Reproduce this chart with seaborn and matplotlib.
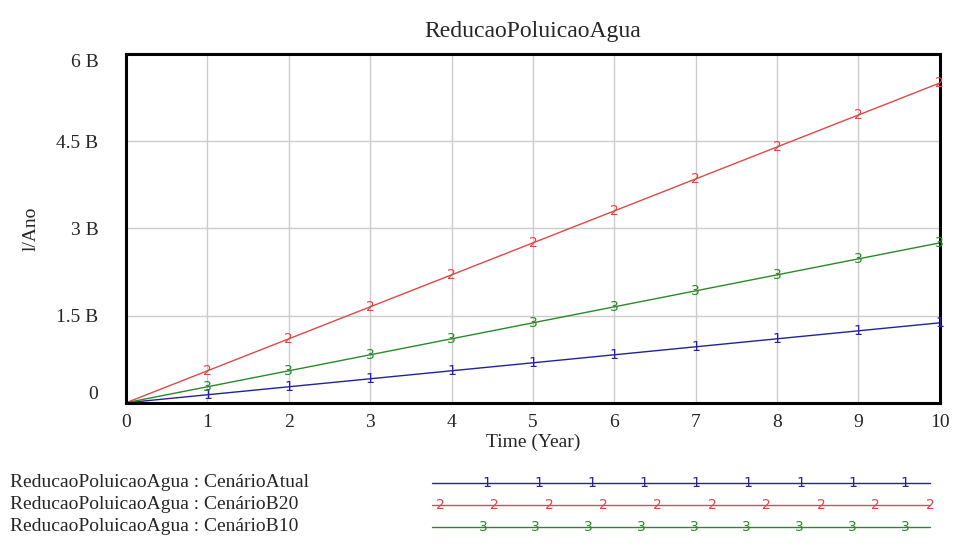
import numpy as np
import pandas as pd
import matplotlib
matplotlib.use("Agg")
import matplotlib.pyplot as plt
import seaborn as sns

time = [0, 1, 2, 3, 4, 5, 6, 7, 8, 9, 10]
atual = [0, 0.1375, 0.275, 0.4125, 0.55, 0.6875, 0.825, 0.9625, 1.1, 1.2375, 1.375]
b20 = [0, 0.55, 1.1, 1.65, 2.2, 2.75, 3.3, 3.85, 4.4, 4.95, 5.5]
b10 = [0, 0.275, 0.55, 0.825, 1.1, 1.375, 1.65, 1.925, 2.2, 2.475, 2.75]
yticks = [0, 1.5, 3, 4.5, 6]
ytick_labels = ["0", "1.5 B", "3 B", "4.5 B", "6 B"]

series = [
    ("ReducaoPoluicaoAgua : CenárioAtual", atual, "1", "#22229a"),
    ("ReducaoPoluicaoAgua : CenárioB20", b20, "2", "#e04848"),
    ("ReducaoPoluicaoAgua : CenárioB10", b10, "3", "#2a8a2a"),
]

df = pd.concat([pd.DataFrame({"time": time, "value": vals, "name": name})
                for name, vals, _, _ in series])

sns.set_style("white")
plt.rcParams["font.family"] = ["Liberation Serif", "DejaVu Serif"]

fig = plt.figure(figsize=(9.55, 5.45), dpi=100)
ax = fig.add_axes([0.132, 0.261, 0.852, 0.640])

palette = {name: color for name, _, _, color in series}
sns.lineplot(data=df, x="time", y="value", hue="name", palette=palette,
             linewidth=1.0, legend=False, ax=ax)

# numbered markers on the lines, vensim style
for name, vals, num, color in series:
    for t, v in zip(time[1:], vals[1:]):
        ax.text(t, v, num, color=color, fontsize=10, ha="center", va="center",
                family="DejaVu Sans")

ax.set_xlim(0, 10)
ax.set_ylim(0, 6)
ax.set_xticks(time)
ax.set_yticks(yticks)
ax.set_yticklabels(ytick_labels)
# vensim keeps the end labels inside the range
ylabs = ax.get_yticklabels()
ylabs[0].set_va("bottom")
ylabs[-1].set_va("top")
ax.grid(True, color="#cccccc", linewidth=1.0)
for s in ax.spines.values():
    s.set_linewidth(2.2)
    s.set_color("black")
ax.tick_params(axis="y", length=0, labelsize=14, pad=20)
ax.tick_params(axis="x", length=0, labelsize=14, pad=8)
ax.set_xlabel("Time (Year)", fontsize=14, labelpad=2)
ax.set_ylabel("l/Ano", fontsize=14, labelpad=12)
ax.set_title("ReducaoPoluicaoAgua", fontsize=17, pad=12)

# legend block underneath
lax = fig.add_axes([0, 0, 1, 0.155])
lax.set_xlim(0, 955)
lax.set_ylim(0, 84)
lax.axis("off")
rows_y = [62, 40, 18]
marker_x = [np.linspace(487, 905, 9), np.linspace(440, 930, 10), np.linspace(483, 905, 9)]
for (name, _, num, color), y, mx in zip(series, rows_y, marker_x):
    lax.text(10, y, name, fontsize=14, ha="left", va="center")
    lax.plot([432, 930], [y, y], color=color, linewidth=1.0)
    for x in mx:
        lax.text(x, y, num, color=color, fontsize=10, ha="center", va="center",
                 family="DejaVu Sans")

fig.savefig("out.png", dpi=100)
